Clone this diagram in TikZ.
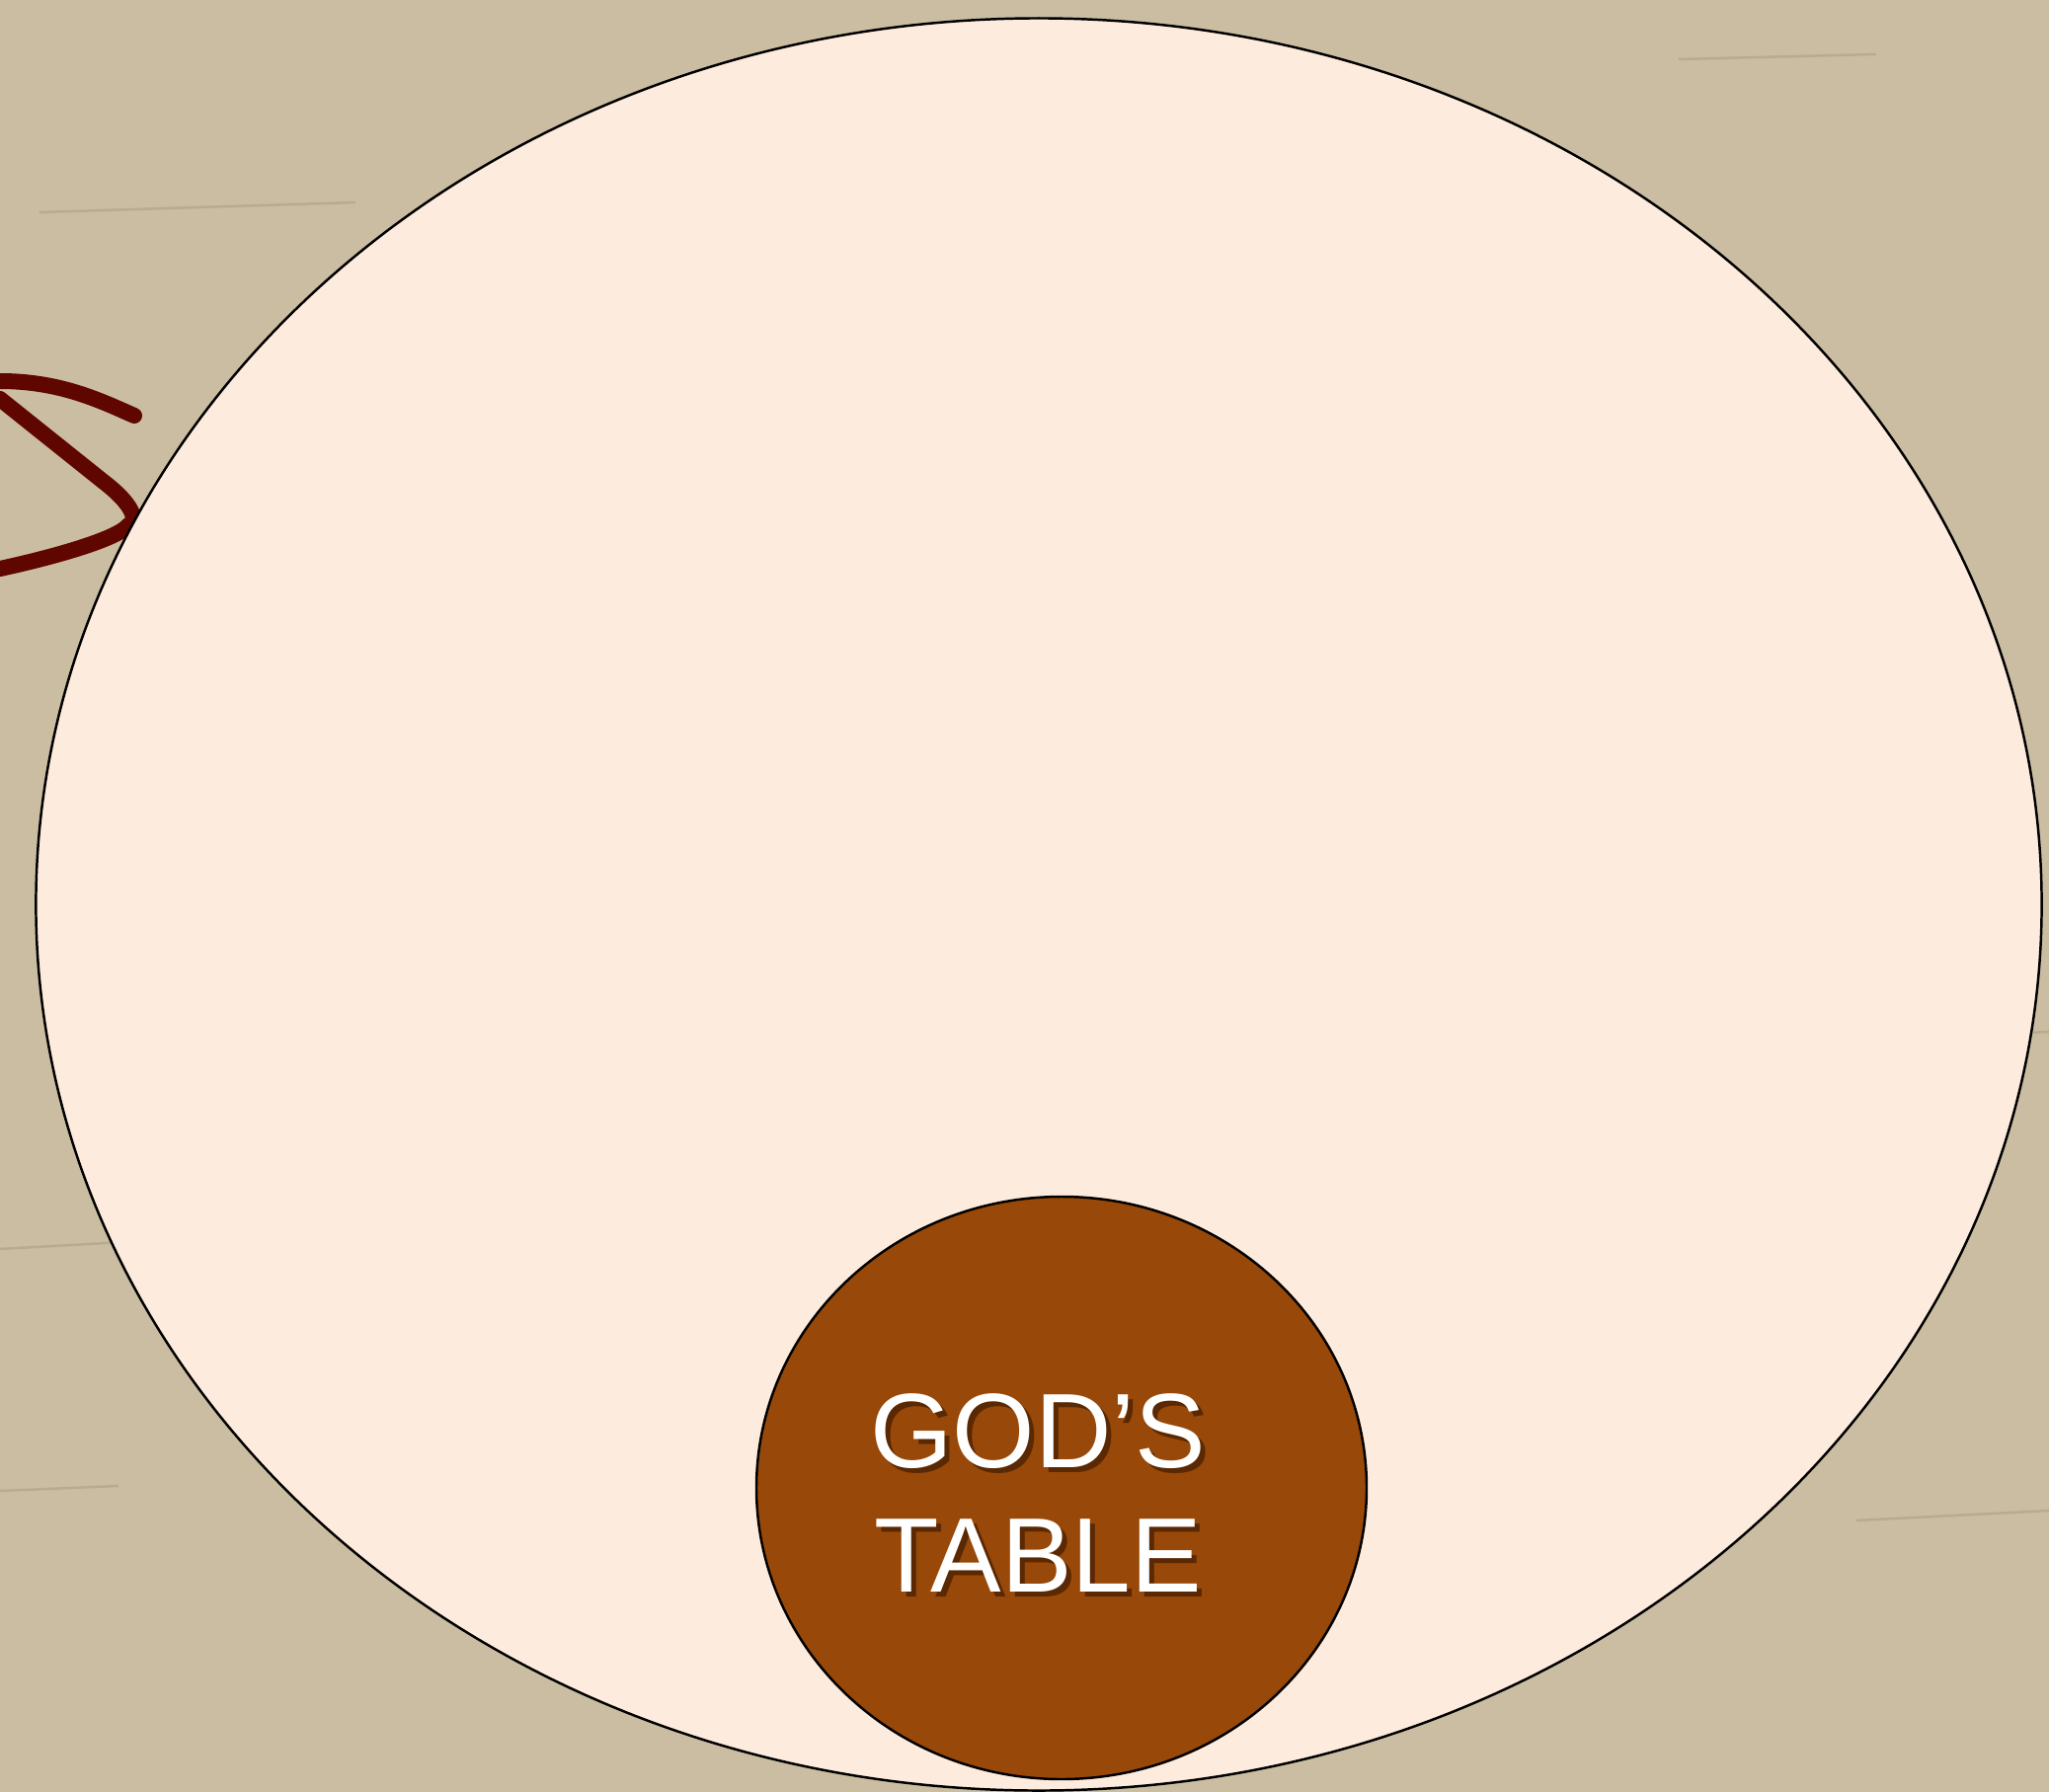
\documentclass[tikz,border=0pt]{standalone}
\usepackage{fontspec}
\usetikzlibrary{shapes.geometric}
\setmainfont{Liberation Sans}
\definecolor{woodbg}{RGB}{202,189,161}
\definecolor{grain}{RGB}{165,150,120}
\definecolor{outerfill}{RGB}{253,235,221}
\definecolor{innerfill}{RGB}{152,72,8}
\definecolor{scribble}{RGB}{96,6,0}
\definecolor{shadowc}{RGB}{50,20,0}
\tikzset{
  plate/.style={draw=black, line width=0.7pt},
  labeltext/.style={text=white, font=\fontsize{30.5}{36}\selectfont, align=center, inner sep=0pt},
  shadowtext/.style={text=shadowc, text opacity=0.6, font=\fontsize{30.5}{36}\selectfont, align=center, inner sep=0pt},
  scribblestroke/.style={draw=scribble, line width=0.16cm, line cap=round, line join=round},
  grainline/.style={draw=grain, line width=0.025cm, opacity=0.45}
}
\begin{document}
\begin{tikzpicture}[x=0.01cm,y=-0.01cm]
\fill[woodbg] (0,0) rectangle (2075,1815);
\useasboundingbox (0,0) rectangle (2075,1815);
% faint wood grain
\draw[grainline] (40,215) -- (360,205);
\draw[grainline] (0,1265) -- (180,1255);
\draw[grainline] (0,1510) -- (120,1505);
\draw[grainline] (1880,1540) -- (2075,1530);
\draw[grainline] (1960,1050) -- (2075,1045);
\draw[grainline] (1700,60) -- (1900,55);
% scribble
\coordinate (s1) at (0,386);
\coordinate (s2) at (136,421);
\coordinate (s3) at (0,404);
\coordinate (s4) at (130,532);
\coordinate (s5) at (0,576);
\draw[scribblestroke] (s1) .. controls (60,386) and (100,405) .. (s2);
\draw[scribblestroke] (s3) -- (105,488) .. controls (140,515) and (138,530) .. (s4) .. controls (120,545) and (60,563) .. (s5);
% plates
\node[plate, ellipse, minimum width=20.30cm, minimum height=17.94cm, fill=outerfill, inner sep=0pt] (outer) at (1052,916) {};
\draw[plate, fill=innerfill] (1075,1507) ellipse [x radius=309, y radius=295];
\coordinate (inner) at (1075,1507);
% text with shadow
\node[shadowtext] (shadow) at (1056,1517) {GOD’S\\TABLE};
\node[labeltext] (label) at (1051,1512) {GOD’S\\TABLE};
\end{tikzpicture}
\end{document}
